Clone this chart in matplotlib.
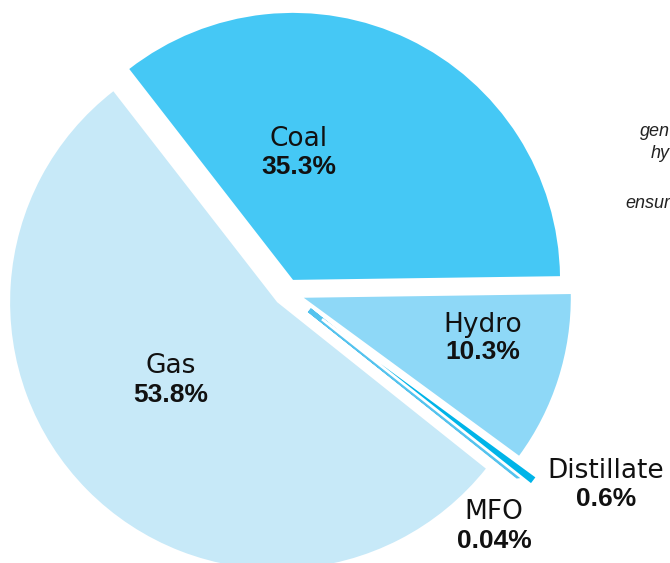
import matplotlib.pyplot as plt

# Electricity generation mix
fuels = ['Coal', 'Gas', 'MFO', 'Distillate', 'Hydro']
shares = [35.3, 53.8, 0.04, 0.6, 10.3]
share_labels = ['35.3%', '53.8%', '0.04%', '0.6%', '10.3%']

colors = ['#45C8F5', '#C7E9F8', '#55C3EE', '#00B4E8', '#8ED8F7']
explode = [0.052, 0.052, 0.107, 0.165, 0.066]

W, H = 670, 563
cx, cy, R = 287, 292.4, 267  # pie centre and radius in pixels

fig = plt.figure(figsize=(W / 100, H / 100), dpi=100)
ax = fig.add_axes([0, 0, 1, 1])

wedges, _ = ax.pie(shares, colors=colors, explode=explode, startangle=0.8,
                   counterclock=True, radius=1.0)
# the MFO sliver is too thin to see, give it a thick outline in its own colour
wedges[2].set_edgecolor(colors[2])
wedges[2].set_linewidth(3.5)
wedges[2].set_joinstyle('bevel')
# white outline on the distillate sliver keeps it apart from MFO
wedges[3].set_edgecolor('white')
wedges[3].set_linewidth(2.0)
wedges[3].set_joinstyle('bevel')

ax.set_xlim(-cx / R, (W - cx) / R)
ax.set_ylim(-(H - cy) / R, cy / R)
ax.set_aspect('auto')
ax.axis('off')

# label positions in pixels (x centre, name y, value y)
label_pos = {
    'Coal': (299, 139, 167),
    'Gas': (171, 366, 395),
    'MFO': (494, 512, 541),
    'Distillate': (606, 471, 499),
    'Hydro': (483, 325, 352),
}
for name, val in zip(fuels, share_labels):
    x, y1, y2 = label_pos[name]
    fig.text(x / W, 1 - y1 / H, name, ha='center', va='center',
             fontsize=19, family='DejaVu Sans', color='#111111')
    fig.text(x / W, 1 - y2 / H, val, ha='center', va='center',
             fontsize=19, fontweight='bold', family='Liberation Sans',
             color='#111111')

# fragments of the neighbouring column of text, cut at the edge
side_text = [('gen', 131), ('hy', 154), ('ensur', 204)]
for txt, y in side_text:
    fig.text(1.0, 1 - y / H, txt, ha='right', va='center', fontsize=13,
             style='italic', family='Liberation Sans', color='#222222')

fig.savefig('out.png', dpi=100)
